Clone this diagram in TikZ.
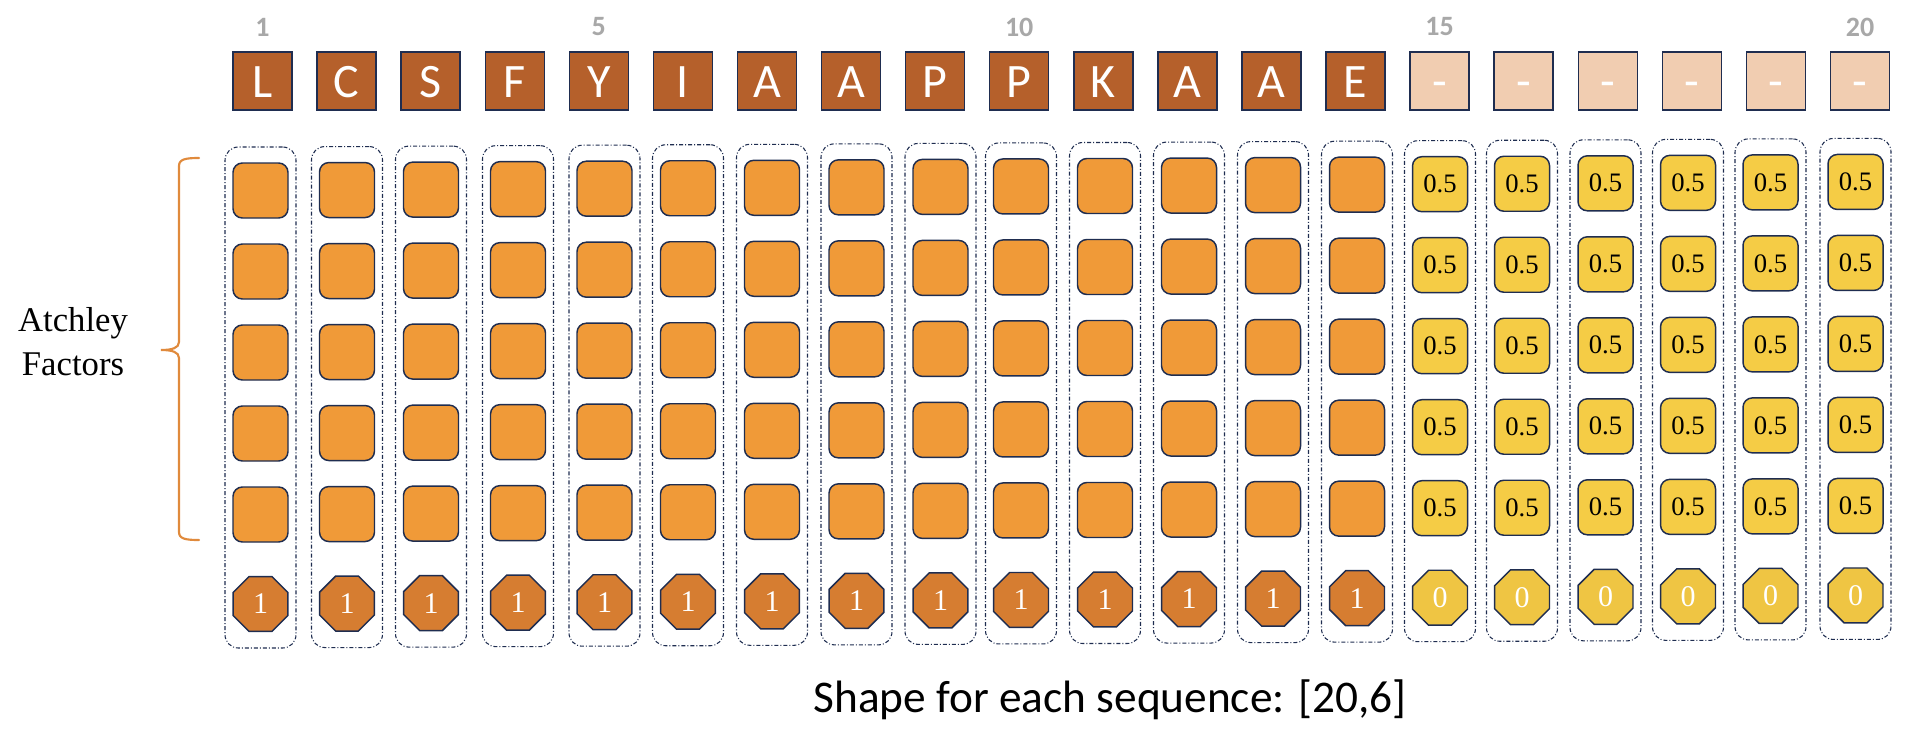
\documentclass[tikz,border=0pt]{standalone}
\usepackage{fontspec}
\usetikzlibrary{shapes.geometric}
\newfontfamily\calfont{Carlito}
\newfontfamily\tnrfont{Liberation Serif}
\definecolor{letterbrown}{HTML}{B5602B}
\definecolor{peach}{HTML}{F1CDB1}
\definecolor{sqorange}{HTML}{F09A38}
\definecolor{sqyellow}{HTML}{F5CC45}
\definecolor{octorange}{HTML}{D67D31}
\definecolor{octyellow}{HTML}{EFC543}
\definecolor{navy}{HTML}{1F2D50}
\definecolor{idxgray}{HTML}{A8A8A8}
\definecolor{braceorange}{HTML}{E08A3C}
\begin{document}
\begin{tikzpicture}[x=0.75pt,y=-0.75pt,
  letterbox/.style={draw=navy,line width=1.1pt,minimum width=44.25pt,minimum height=43.5pt,
    inner sep=0pt,text=white,font=\calfont\fontsize{36}{36}\selectfont,text height=24pt,text depth=0pt},
  idx/.style={text=idxgray,font=\calfont\bfseries\fontsize{21}{21}\selectfont,inner sep=0pt},
  colbox/.style={draw=navy,line width=0.8pt,dash pattern=on 3pt off 1.5pt on 0.75pt off 1.5pt,
    rounded corners=10pt,minimum width=53.25pt,minimum height=375.75pt,inner sep=0pt},
  sqbase/.style={draw=navy,line width=1.1pt,rounded corners=7pt,minimum width=41.25pt,
    minimum height=41.25pt,inner sep=0pt},
  sqo/.style={sqbase,fill=sqorange},
  sqy/.style={sqbase,fill=sqyellow,text=black,font=\tnrfont\fontsize{20}{20}\selectfont},
  octbase/.style={draw=navy,line width=1.1pt,regular polygon,regular polygon sides=8,
    minimum size=44.6pt,inner sep=0pt,text=white,font=\tnrfont\fontsize{22.5}{22.5}\selectfont},
  octo/.style={octbase,fill=octorange},
  octy/.style={octbase,fill=octyellow},
  bracestyle/.style={draw=braceorange,line width=1.6pt,line cap=round}]
\useasboundingbox (0,0) rectangle (1916,736);

% index numbers
\foreach \i in {1,5,10,15,20} {
  \node[idx] (n\i) at ({262.5+84.08*(\i-1)},27) {\i};
}
% residue boxes
\foreach \i/\l in {1/L,2/C,3/S,4/F,5/Y,6/I,7/A,8/A,9/P,10/P,11/K,12/A,13/A,14/E} {
  \node[letterbox,fill=letterbrown] (t\i) at ({262.5+84.08*(\i-1)},81) {\l};
}
\foreach \i in {15,...,20} {
  \node[letterbox,fill=peach] (t\i) at ({262.5+84.08*(\i-1)},81) {-};
}

% feature columns
\foreach \i/\xb in {1/260.5,2/347,3/431,4/518,5/604.5,6/688,7/772,8/856.5,9/940.5,10/1021,
    11/1105,12/1189,13/1273,14/1357,15/1440,16/1522,17/1605.5,18/1688,19/1770.5,20/1855.5} {
  \pgfmathsetmacro\dy{-0.45*(\i-1)}
  \node[colbox] (c\i) at ({\xb},{397.5+\dy}) {};
  \foreach \r in {1,...,5} {
    \ifnum\i<15
      \node[sqo] (s\i-\r) at ({\xb},{190.5+81*(\r-1)+\dy}) {};
    \else
      \node[sqy] (s\i-\r) at ({\xb},{190.5+81*(\r-1)+\dy}) {0.5};
    \fi
  }
  \ifnum\i<15
    \node[octo] (o\i) at ({\xb},{604+\dy}) {1};
  \else
    \node[octy] (o\i) at ({\xb},{604+\dy}) {0};
  \fi
}

% brace
\draw[bracestyle] (199,158) .. controls (186,158) and (179,159) .. (179,166)
  -- (179,342) .. controls (179,348) and (172,350) .. (161,350)
  .. controls (172,350) and (179,352) .. (179,358)
  -- (179,532) .. controls (179,539) and (186,540) .. (199,540);

\node[font=\tnrfont\fontsize{26}{33}\selectfont,align=center,inner sep=0pt] (atch) at (73,342) {Atchley\\Factors};

\node[font=\calfont\fontsize{34}{34}\selectfont,anchor=base,inner sep=0pt] (shape) at (1110,712) {Shape for each sequence: [20,6]};
\end{tikzpicture}
\end{document}
